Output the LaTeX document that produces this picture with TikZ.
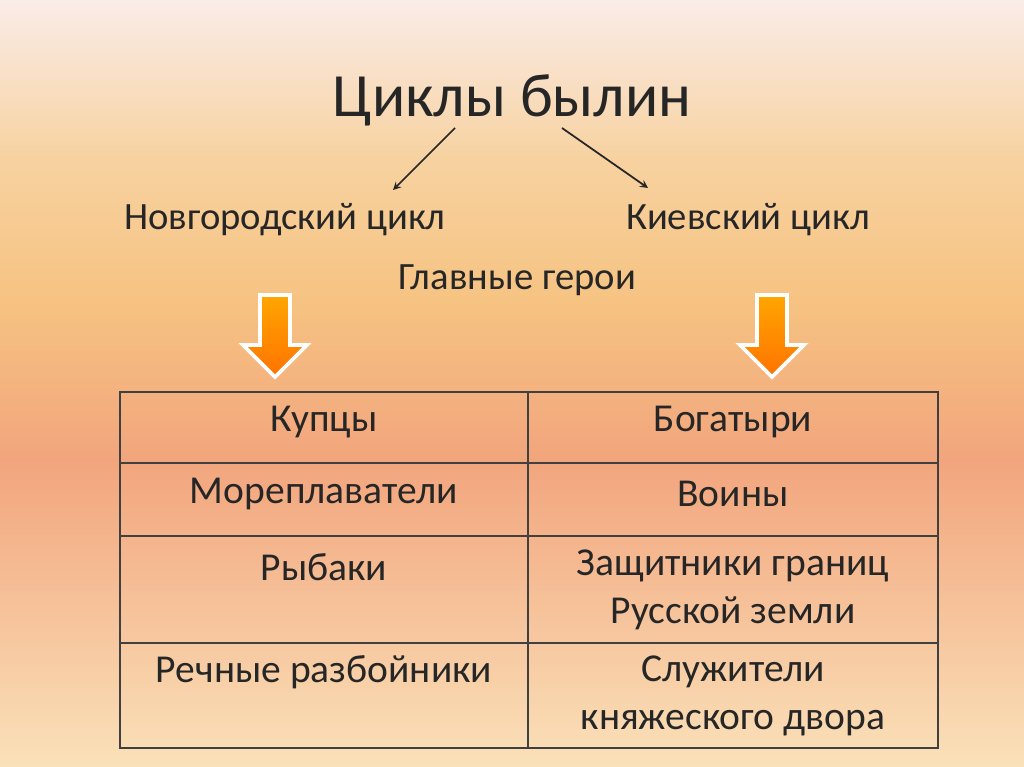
\documentclass[tikz,border=0pt]{standalone}
\usepackage{fontspec}
\setmainfont{Carlito}
\begin{document}
\begin{tikzpicture}[x=0.02cm,y=-0.02cm,
  cell/.style={font=\fontsize{22.5}{27}\selectfont,align=center,text=black!85},
  head/.style={font=\fontsize{22}{26}\selectfont,text=black!85},
  thinarrow/.style={->,>=stealth,line width=1pt,black!85},
  blockarrow/.style={top color=orange!70!yellow,bottom color=orange!90!red,draw=white,line width=2.2pt},
  grid/.style={draw=black!75,line width=1pt}]
\useasboundingbox (0,0) rectangle (1024,767);
\shade[top color={rgb,255:red,250;green,236;blue,232},bottom color={rgb,255:red,247;green,210;blue,160}] (0,0) rectangle (1024,160);
\shade[top color={rgb,255:red,247;green,210;blue,160},bottom color={rgb,255:red,246;green,195;blue,130}] (0,160) rectangle (1024,300);
\shade[top color={rgb,255:red,246;green,195;blue,130},bottom color={rgb,255:red,242;green,165;blue,125}] (0,300) rectangle (1024,460);
\shade[top color={rgb,255:red,242;green,165;blue,125},bottom color={rgb,255:red,250;green,225;blue,185}] (0,460) rectangle (1024,767);

\node[font=\fontsize{35}{40}\selectfont,text=black!85] (title) at (512,100) {Циклы былин};
\node[head] (nov) at (285,220) {Новгородский цикл};
\node[head] (kiev) at (748,220) {Киевский цикл};
\node[head] (gl) at (517,280) {Главные герои};
\coordinate (a1) at (455,128); \coordinate (a2) at (393,190);
\coordinate (b1) at (562,128); \coordinate (b2) at (648,188);
\draw[thinarrow] (a1) -- (a2);
\draw[thinarrow] (b1) -- (b2);

\foreach \cx in {275,772}{
  \path[blockarrow] (\cx-15,295) -- (\cx+15,295) -- (\cx+15,345) -- (\cx+32,345) -- (\cx,377) -- (\cx-32,345) -- (\cx-15,345) -- cycle;
}

\draw[grid] (120,392) rectangle (938,748);
\draw[grid] (528,392) -- (528,748);
\foreach \yy in {463,536,643}{\draw[grid] (120,\yy) -- (938,\yy);}

\node[cell] (c11) at (324,422) {Купцы};
\node[cell] (c12) at (733,422) {Богатыри};
\node[cell] (c21) at (324,494) {Мореплаватели};
\node[cell] (c22) at (733,494) {Воины};
\node[cell] (c31) at (324,567) {Рыбаки};
\node[cell] (c32) at (733,590) {Защитники границ\\Русской земли};
\node[cell] (c41) at (324,672) {Речные разбойники};
\node[cell] (c42) at (733,696) {Служители\\княжеского двора};
\end{tikzpicture}
\end{document}
